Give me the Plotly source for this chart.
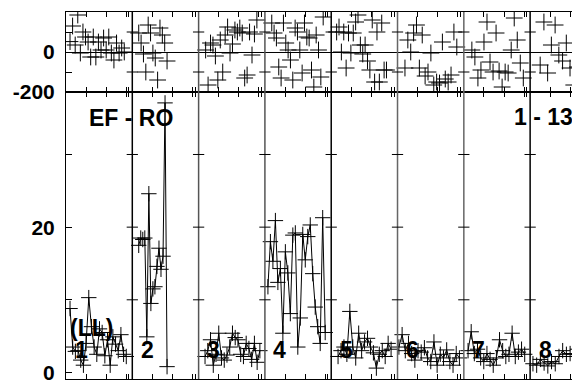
import numpy as np
import plotly.graph_objects as go

PANEL_DAYS = 33
panel_labels = ["1", "2", "3", "4", "5", "6", "7", "8"]

# bottom series (per panel): first day, last day, values
bot_span = [(2, 30), (3.2, 17.3), (3.2, 30.5), (1.5, 30), (3.4, 29.8), (0.7, 30.8), (2.1, 30.3), (1.4, 31)]
bot_p1 = [8.8, 3.5, 2.9, 3.0, 1.7, 1.0, 4.0, 10.3, 6.3, 3.5, 2.5, 6.0, 5.5, 2.3, 4.5, 1.0, 4.9, 3.9, 3.0, 5.2, 2.5, 2.2]
bot_p2 = [17.5, 18.5, 18.3, 18.5, 4.9, 24.6, 9.5, 11.5, 11.8, 14.6, 17.1, 14.2, 16.0, 37.1, 0.8]
bot_p3 = [2.2, 3.0, 4.5, 1.0, 2.5, 5.4, 2.0, 1.7, 2.4, 3.5, 5.4, 4.8, 4.5, 2.5, 2.2, 4.0, 3.3, 1.8, 4.0, 1.4, 3.0]
bot_p4 = [11.8, 18.0, 15.3, 20.9, 12.4, 14.3, 5.4, 16.6, 13.7, 8.1, 18.9, 19.2, 3.5, 7.5, 19.0, 15.5, 18.7, 20.3, 13.6, 9.0, 6.3, 4.0, 21.3, 5.5]
bot_p5 = [2.2, 3.0, 3.5, 2.5, 8.4, 3.5, 2.0, 5.4, 3.0, 4.2, 4.7, 3.5, 2.7, 0.6, 2.5, 3.0, 2.2, 4.0, 3.2]
bot_p6 = [3.5, 5.2, 3.0, 4.0, 2.6, 1.7, 3.0, 2.8, 3.4, 2.0, 1.5, 4.2, 1.0, 2.5, 2.0, 3.1, 1.5, 1.0, 2.6, 2.0]
bot_p7 = [3.0, 5.6, 2.6, 3.2, 2.0, 1.5, 2.6, 1.8, 1.0, 2.0, 4.5, 3.0, 2.2, 2.5, 5.4, 2.2, 2.8, 3.2, 2.5]
bot_p8 = [1.2, 1.0, 1.8, 1.3, 0.9, 1.5, 1.2, 2.2, 3.0, 2.5, 2.6, 2.2, 3.2, 2.5, 2.8, 2.0, 2.6]
bot_vals = [bot_p1, bot_p2, bot_p3, bot_p4, bot_p5, bot_p6, bot_p7, bot_p8]

# top series (per panel)
top_span = [(2, 29), (3.2, 17.3), (3.5, 29), (3.4, 29), (2.7, 27.5), (3.7, 29.5), (4, 29.6), (5, 31)]
top_p1 = [52, 130, 35, 185, -5, 100, 75, 50, -25, 75, -25, 50, 10, 70, 10, 75, -5, -40, 45, -5, 20, 0]
top_p2 = [95, 45, -10, -100, 135, 95, -5, -30, -140, 120, 85, 45, -45]
top_p3 = [10, -165, 45, 35, -20, -140, 60, -100, 85, 125, -5, 40, 110, 100, 120, 95, -130, -115, 100, -15, 90, 160]
top_p4 = [145, 95, 70, -75, -130, 145, 45, 10, -40, -140, 120, 100, 10, -105, 145, 75, 70, -90, -175, 85, 10, -125, 175]
top_p5 = [100, 125, 0, 100, -80, 95, -5, 95, 150, 185, 35, -10, 35, -45, -90, 160, -150, 100, -150, 145, -90, -90]
top_p6 = [-80, 60, 0, 95, 135, -80, 85, -120, -100, -5, -165, -150, -155, 50, -135, -150, -115, 100, 25]
top_p7 = [10, -25, -130, -90, 50, 150, -50, -100, 95, -95, -175, -100, -105, 10, 170, 60, -55, -130]
top_p8 = [-65, 150, -105, 35, 135, -15, -45, 45, -80, -165, -75, 35, 85, -100, 60]
top_vals = [top_p1, top_p2, top_p3, top_p4, top_p5, top_p6, top_p7, top_p8]

bot_ticks = [0, 10, 20, 30]
bot_ticktext = ["<b>0</b>", "", "<b>20</b>", ""]
top_ticks = [-200, -100, 0, 100, 200]
top_ticktext = ["<b>-200</b>", "", "<b>0</b>", "", ""]
x_tick_days = [10, 20, 30, 31.3]

FONT = "Liberation Sans, Arial, sans-serif"
fig = go.Figure()

for i in range(8):
    n = len(bot_vals[i])
    d = np.linspace(bot_span[i][0], bot_span[i][1], n)
    fig.add_trace(go.Scatter(
        x=i * PANEL_DAYS + d, y=bot_vals[i], mode="lines+markers",
        line=dict(color="black", width=1),
        marker=dict(symbol="cross-thin", size=11, line=dict(color="black", width=1)),
        xaxis="x", yaxis="y", showlegend=False, cliponaxis=True))
    m = len(top_vals[i])
    dt = np.linspace(top_span[i][0], top_span[i][1], m)
    fig.add_trace(go.Scatter(
        x=i * PANEL_DAYS + dt, y=top_vals[i], mode="markers",
        marker=dict(symbol="cross-thin", size=12, line=dict(color="black", width=1)),
        xaxis="x2", yaxis="y2", showlegend=False, cliponaxis=True))

XMAX = 259.8
tickvals_x = [i * PANEL_DAYS + d for i in range(8) for d in x_tick_days]

common_x = dict(range=[0, XMAX], showline=True, linecolor="black", linewidth=1,
                mirror="ticks", ticks="inside", ticklen=5, tickcolor="black",
                tickvals=tickvals_x, showticklabels=False, showgrid=False,
                zeroline=False, automargin=False)

yfont = dict(family=FONT, size=21, color="black")
fig.update_layout(
    width=580, height=387,
    margin=dict(l=58, r=0, t=4, b=16, autoexpand=False),
    paper_bgcolor="white", plot_bgcolor="white",
    xaxis=dict(domain=[0, 1], anchor="y", **common_x),
    xaxis2=dict(domain=[0, 1], anchor="y2", matches="x", **common_x),
    yaxis=dict(domain=[0, 0.782], range=[-0.9, 38.6], showline=True, linecolor="black",
               linewidth=1, ticks="inside", ticklen=6, tickcolor="black",
               tickvals=bot_ticks, ticktext=bot_ticktext, showgrid=False, zeroline=False,
               ticklabelstandoff=6, automargin=False, tickfont=yfont),
    yaxis2=dict(domain=[0.782, 1], range=[-200, 200], showline=True, linecolor="black",
                linewidth=1, ticks="inside", ticklen=6, tickcolor="black",
                tickvals=top_ticks, ticktext=top_ticktext, showgrid=False,
                zeroline=True, zerolinecolor="black", zerolinewidth=1,
                ticklabelstandoff=6, automargin=False, tickfont=yfont),
)

shapes = []
border_colors = ["black", "#555", "#555", "black", "#666", "#666", "black"]
for i in range(1, 8):
    xb = i * PANEL_DAYS
    shapes.append(dict(type="line", xref="x", yref="paper", x0=xb, x1=xb, y0=0, y1=1,
                       line=dict(color=border_colors[i - 1], width=1.5)))
    for v in bot_ticks[1:]:
        shapes.append(dict(type="line", xref="x", yref="y", x0=xb - 2.8, x1=xb + 2.8,
                           y0=v, y1=v, line=dict(color="black", width=1)))
    for v in [-100, 100]:
        shapes.append(dict(type="line", xref="x", yref="y2", x0=xb - 2.8, x1=xb + 2.8,
                           y0=v, y1=v, line=dict(color="black", width=1)))
fig.update_layout(shapes=shapes)

afont = dict(family=FONT, size=23, color="black")
ann = []
for i, lab in enumerate(panel_labels):
    ann.append(dict(text="<b>" + lab + "</b>", x=i * PANEL_DAYS + 7.5, y=3.1, xref="x", yref="y",
                    xanchor="center", yanchor="middle", showarrow=False, font=afont))
ann.append(dict(text="<b>(LL)</b>", x=0.0038, y=0.139, xref="paper", yref="paper",
                xanchor="left", yanchor="middle", showarrow=False, font=afont))
ann.append(dict(text="<b>EF - RO</b>", x=0.1245, y=0.711, xref="paper", yref="paper",
                xanchor="center", yanchor="middle", showarrow=False, font=afont))
ann.append(dict(text="<b>1 - 13</b>", x=0.975, y=0.714, xref="paper", yref="paper",
                xanchor="right", yanchor="middle", showarrow=False, font=afont))
fig.update_layout(annotations=ann)

fig.write_html("out.html")
